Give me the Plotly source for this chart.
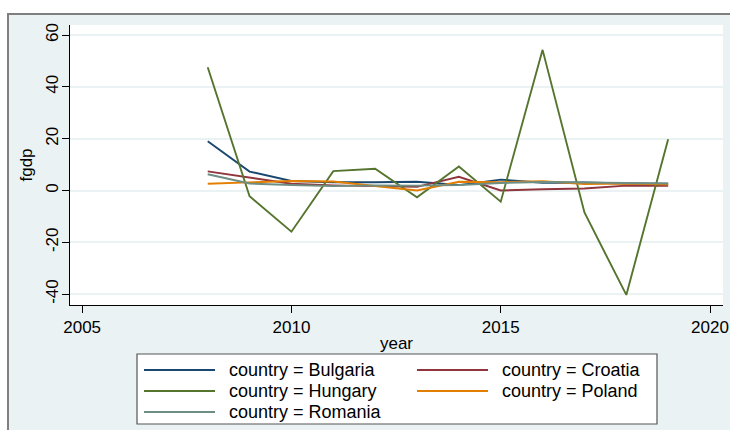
import plotly.graph_objects as go

# Annual fgdp by country, 2008-2019
years = [2008, 2009, 2010, 2011, 2012, 2013, 2014, 2015, 2016, 2017, 2018, 2019]
bulgaria = [19.0, 7.3, 3.7, 3.2, 3.2, 3.4, 2.1, 4.2, 3.0, 3.1, 2.7, 2.6]
croatia = [7.4, 4.9, 2.6, 2.0, 1.8, 1.4, 5.3, 0.0, 0.5, 0.8, 1.9, 1.8]
hungary = [47.6, -2.2, -15.9, 7.5, 8.4, -2.6, 9.3, -4.3, 54.3, -8.5, -40.3, 19.8]
poland = [2.6, 3.2, 3.7, 3.5, 1.7, 0.0, 3.4, 3.2, 3.6, 2.5, 2.7, 2.3]
romania = [6.3, 2.7, 2.1, 1.7, 2.0, 1.9, 2.1, 2.9, 3.3, 3.2, 2.9, 2.7]

countries = ["Bulgaria", "Croatia", "Hungary", "Poland", "Romania"]
series = [bulgaria, croatia, hungary, poland, romania]
colors = ["#1a476f", "#90353b", "#55752f", "#e37e00", "#6e8e84"]

y_ticks = [-40, -20, 0, 20, 40, 60]
y_labels = ["-40", "-20", "0", "20", "40", "60"]
x_ticks = [2005, 2010, 2015, 2020]

FONT = "Liberation Sans, Arial, sans-serif"
FS = 17
LEG_FS = 18
BG = "#eaf2f3"

W, H = 730, 430
L, R, T, B = 70, 7, 25, 125

fig = go.Figure()
for name, vals, col in zip(countries, series, colors):
    fig.add_trace(go.Scatter(
        x=years, y=vals, mode="lines", name=f"country = {name}",
        line=dict(color=col, width=1.9), showlegend=False,
    ))

pw, ph = W - L - R, H - T - B
def px(x):
    return (x - L) / pw
def py(y):
    return (H - B - y) / ph

shapes = []
annotations = []

# white page strips outside the graph frame, then the frame border
shapes.append(dict(type="rect", xref="paper", yref="paper",
                   x0=px(-5), x1=px(740), y0=py(14), y1=py(-5),
                   fillcolor="white", line=dict(width=0)))
shapes.append(dict(type="rect", xref="paper", yref="paper",
                   x0=px(-5), x1=px(8), y0=py(440), y1=py(-5),
                   fillcolor="white", line=dict(width=0)))
shapes.append(dict(type="rect", xref="paper", yref="paper",
                   x0=px(8), x1=px(745), y0=py(445), y1=py(14),
                   fillcolor="rgba(0,0,0,0)", line=dict(color="#7f7f7f", width=2)))

# legend box with line keys
shapes.append(dict(type="rect", xref="paper", yref="paper",
                   x0=px(137), x1=px(657), y0=py(424), y1=py(354),
                   fillcolor="white", line=dict(color="#555555", width=1.2)))
rows = [370, 391, 412]
cols = [(144, 215, 227), (417, 488, 500)]
for i, (name, col) in enumerate(zip(countries, colors)):
    r, c = divmod(i, 2)
    x0, x1, xt = cols[c]
    yy = rows[r]
    shapes.append(dict(type="line", xref="paper", yref="paper",
                       x0=px(x0), x1=px(x1), y0=py(yy), y1=py(yy),
                       line=dict(color=col, width=1.8)))
    annotations.append(dict(xref="paper", yref="paper", x=px(xt), y=py(yy),
                            text=f"country = {name}", showarrow=False,
                            xanchor="left", yanchor="middle",
                            font=dict(family=FONT, size=LEG_FS, color="black")))

fig.update_layout(
    width=W, height=H,
    margin=dict(l=L, r=R, t=T, b=B),
    paper_bgcolor=BG,
    plot_bgcolor="white",
    font=dict(family=FONT, size=FS, color="black"),
    shapes=shapes,
    annotations=annotations,
    xaxis=dict(
        range=[2004.71, 2020.31], tickvals=x_ticks, showgrid=False, zeroline=False,
        showline=True, linecolor="black", linewidth=1, ticks="outside",
        ticklen=7, tickcolor="black", tickfont=dict(size=FS), automargin=False,
        title=dict(text="year", font=dict(size=FS), standoff=0),
    ),
    yaxis=dict(
        range=[-44.2, 63.9], tickvals=y_ticks, ticktext=y_labels,
        showgrid=True, gridcolor=BG, gridwidth=1.5, zeroline=False,
        showline=True, linecolor="black", linewidth=1, ticks="outside",
        ticklen=7, tickcolor="black", tickangle=-90, tickfont=dict(size=FS),
        ticklabelstandoff=-3, automargin=False,
        title=dict(text="fgdp", font=dict(size=FS), standoff=6),
    ),
)

fig.write_html("out.html")
